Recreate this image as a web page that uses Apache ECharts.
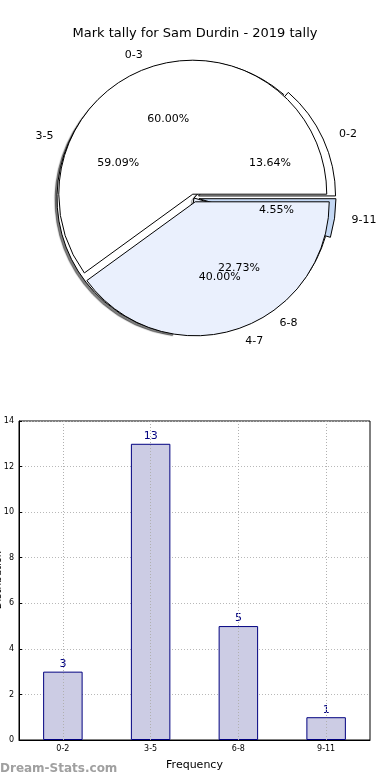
<!DOCTYPE html>
<html>
<head>
<meta charset="utf-8">
<script src="https://cdn.jsdelivr.net/npm/echarts@6/dist/echarts.min.js"></script>
<style>
html,body{margin:0;padding:0;background:#fff;}
#c{width:390px;height:780px;}
</style>
</head>
<body>
<div id="c"></div>
<script>
// ---- data ----
var titleText = 'Mark tally for Sam Durdin - 2019 tally';
var outerCategories = ['0-2', '3-5', '6-8', '9-11'];
var outerValues = [3, 13, 5, 1];
var innerCategories = ['0-3', '4-7'];
var innerValues = [60, 40];
var barCategories = ['0-2', '3-5', '6-8', '9-11'];
var barValues = [3, 13, 5, 1];
var yTickMax = 14;
var yTickStep = 2;
var yAxisTitle = 'Distribution';

var outerColors = ['#ffffff', '#ffffff', '#eaf0fd', '#c4d8f4'];
var innerColors = ['#ffffff', '#eaf0fd'];
var outerSelected = [true, false, false, true];
var outerShadow = [false, true, false, false];

var FONT = 'DejaVu Sans';
var CENTER = [194, 198];
var R = 134;

function pct(vals, i) {
  var s = vals.reduce(function (a, b) { return a + b; }, 0);
  return (vals[i] / s * 100).toFixed(2) + '%';
}

var outerData = outerCategories.map(function (c, i) {
  var st = { color: outerColors[i] };
  if (outerShadow[i]) {
    st.shadowColor = 'rgba(0,0,0,0.5)';
    st.shadowOffsetX = -2;
    st.shadowOffsetY = 2;
    st.shadowBlur = 1;
  }
  return { name: c, value: outerValues[i], selected: outerSelected[i], itemStyle: st };
});
var innerData = innerCategories.map(function (c, i) {
  return { name: c, value: innerValues[i], selected: true,
    itemStyle: { color: innerColors[i] } };
});
var outerPctData = outerCategories.map(function (c, i) {
  return { name: c, value: outerValues[i], label: { formatter: pct(outerValues, i) } };
});
var innerPctData = innerCategories.map(function (c, i) {
  return { name: c, value: innerValues[i], label: { formatter: pct(innerValues, i) } };
});

var pieBase = {
  type: 'pie',
  center: CENTER,
  startAngle: 0,
  clockwise: false,
  avoidLabelOverlap: false,
  animation: false,
  emphasis: { disabled: true },
  labelLayout: { hideOverlap: false },
  labelLine: { show: false, length: 12, length2: 0 }
};

function pieSeries(extra) {
  return Object.assign({}, pieBase, extra);
}

var chart = echarts.init(document.getElementById('c'), null, { renderer: 'canvas' });
chart.setOption({
  backgroundColor: '#ffffff',
  animation: false,
  textStyle: { fontFamily: FONT },
  title: {
    text: titleText, left: 'center', top: 22,
    textStyle: { fontFamily: FONT, fontSize: 13, fontWeight: 'normal', color: '#000' }
  },
  graphic: [{
    type: 'text', left: 0, top: 763,
    style: { text: 'Dream-Stats.com', fontFamily: FONT, fontSize: 12, fontWeight: 'bold', fill: '#a0a0a0' }
  }, {
    type: 'text', x: 3, y: 580, rotation: Math.PI / 2,
    style: { text: yAxisTitle, fontFamily: FONT, fontSize: 10, fill: '#000',
      textAlign: 'center', textVerticalAlign: 'bottom' }
  }],
  grid: {
    left: 19, right: 20, top: 421, bottom: 40,
    outerBoundsMode: 'none', containLabel: false,
    show: true, borderColor: '#000', borderWidth: 1, backgroundColor: 'transparent'
  },
  xAxis: {
    type: 'category', data: barCategories,
    name: 'Frequency', nameLocation: 'middle', nameGap: 20,
    nameTextStyle: { fontFamily: FONT, fontSize: 11, color: '#000' },
    axisLine: { lineStyle: { color: '#000' } },
    axisTick: { show: false },
    axisLabel: { fontFamily: FONT, fontSize: 8, color: '#000', margin: 5 },
    splitLine: { show: false }
  },
  yAxis: {
    type: 'value', min: 0, max: yTickMax, interval: yTickStep,
    axisLine: { show: true, lineStyle: { color: '#000' } },
    axisTick: { show: true, inside: true, length: 3, lineStyle: { color: '#000' } },
    axisLabel: { fontFamily: FONT, fontSize: 8, color: '#000', margin: 5 },
    splitLine: { show: true, lineStyle: { color: '#b8b8b8', type: [1, 2], width: 1 } }
  },
  series: [
    pieSeries({
      radius: R + 3,
      selectedMode: 'multiple',
      selectedOffset: 5,
      data: outerData,
      itemStyle: { borderColor: '#000', borderWidth: 1 },
      label: { show: true, position: 'outside', fontFamily: FONT, fontSize: 11, color: '#000' }
    }),
    pieSeries({
      radius: R,
      selectedMode: 'multiple',
      selectedOffset: 4,
      data: innerData,
      itemStyle: { borderColor: '#000', borderWidth: 1 },
      label: { show: true, position: 'outside', fontFamily: FONT, fontSize: 11, color: '#000' }
    }),
    pieSeries({
      radius: [R * 0.2, R],
      silent: true,
      data: outerPctData,
      itemStyle: { color: 'transparent', borderWidth: 0 },
      label: { show: true, position: 'inside', fontFamily: FONT, fontSize: 11, color: '#000' }
    }),
    pieSeries({
      radius: [R * 0.2, R],
      silent: true,
      data: innerPctData,
      itemStyle: { color: 'transparent', borderWidth: 0 },
      label: { show: true, position: 'inside', fontFamily: FONT, fontSize: 11, color: '#000' }
    }),
    {
      type: 'bar',
      data: barValues,
      barWidth: '45%',
      animation: false,
      itemStyle: { color: '#ccccE4', borderColor: '#000080', borderWidth: 1 },
      label: { show: true, position: 'top', distance: 2, fontFamily: FONT, fontSize: 11, color: '#000080' },
      markLine: {
        silent: true, symbol: 'none', label: { show: false },
        lineStyle: { color: '#b0b0b0', type: [1, 2], width: 1 },
        data: barCategories.map(function (c) { return { xAxis: c }; })
      }
    }
  ]
});
</script>
</body>
</html>
